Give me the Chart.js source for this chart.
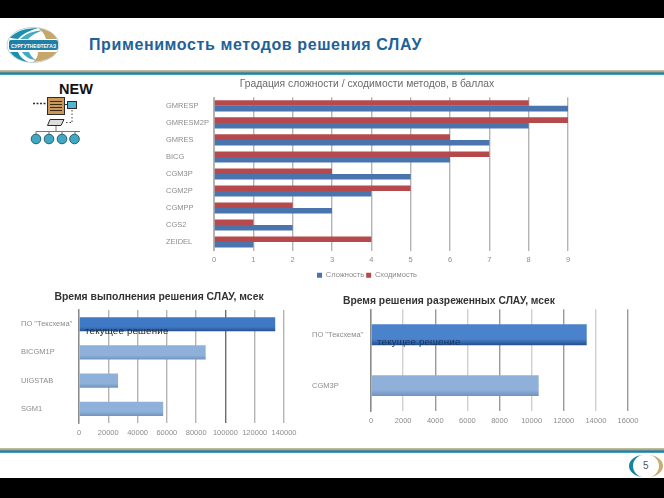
<!DOCTYPE html>
<html>
<head>
<meta charset="utf-8">
<script src="https://cdn.jsdelivr.net/npm/chart.js@4"></script>
<style>
  html, body { margin: 0; padding: 0; background: #fff; }
  #page { position: relative; width: 664px; height: 498px; overflow: hidden; font-family: "Liberation Sans", sans-serif; }
  #page canvas { position: absolute; filter: blur(0.45px); }
  .band { position: absolute; left: 0; width: 664px; background: #000; }
  .label { position: absolute; white-space: nowrap; }
  svg { position: absolute; left: 0; top: 0; }
</style>
</head>
<body>
<div id="page">
  <svg width="664" height="498">
    <defs>
      <linearGradient id="rule" x1="0" y1="0" x2="0" y2="1">
        <stop offset="0" stop-color="#cdbf98"/>
        <stop offset="0.4" stop-color="#8fa9a0"/>
        <stop offset="0.6" stop-color="#1f6f8f"/>
        <stop offset="1" stop-color="#49aecb"/>
      </linearGradient>
    </defs>
    <!-- header logo -->
    <ellipse cx="33" cy="45" rx="26" ry="17.5" fill="#fff" stroke="#9fb4b8" stroke-width="0.6"/>
    <path d="M10 38 Q18 28 38 28 Q24 32 18 39 Z" fill="#1b8fb0"/>
    <path d="M20 39 Q28 31 44 30 Q34 33 28 39 Z" fill="#4aa8c2"/>
    <path d="M38 28 Q52 30 57 39 L46 39 Q44 32 38 28 Z" fill="#c5a76c"/>
    <path d="M10 52 Q16 60 28 62 Q20 58 18 52 Z" fill="#1b8fb0"/>
    <path d="M22 52 Q26 59 36 60 Q31 57 29 52 Z" fill="#4aa8c2"/>
    <path d="M38 52 Q38 58 33 62 Q50 61 57 52 Z" fill="#c5a76c"/>
    <rect x="9" y="40" width="49" height="10" rx="2" fill="#1f7fa6"/>
    <text x="33.5" y="47.5" font-size="5.4" font-weight="bold" fill="#fff" text-anchor="middle" font-family="Liberation Sans" textLength="45" lengthAdjust="spacingAndGlyphs">СУРГУТНЕФТЕГАЗ</text>
    <!-- header and footer rules -->
    <rect x="0" y="70" width="664" height="5" fill="url(#rule)"/>
    <rect x="0" y="448" width="664" height="5" fill="url(#rule)"/>
    <!-- scheme icon under NEW -->
    <path d="M33 103.5 H47" stroke="#333" stroke-width="1.4" stroke-dasharray="2 1.5"/>
    <rect x="47.500" y="97.500" width="17" height="17" fill="#c9975a" stroke="#2b2b2b"/>
    <path d="M50 101.500 H62 M50 104.500 H62 M50 107.500 H62 M50 110.500 H62" stroke="#3a2c18" stroke-width="1.1"/>
    <rect x="67.500" y="101.500" width="9" height="7" fill="#52b5cf" stroke="#2b2b2b"/>
    <path d="M64 104.500 H67.500" stroke="#333"/>
    <path d="M72 110 V122 M66 122.500 H72" stroke="#444" stroke-dasharray="1.5 2"/>
    <path d="M50 119.500 H64 L61 125.500 H47.500 Z" fill="#ddd" stroke="#2b2b2b"/>
    <path d="M36 131.500 H80 M56 126 V131.500 M36 131.500 V135 M49 131.500 V135 M62 131.500 V135 M75 131.500 V135" stroke="#777"/>
    <circle cx="36" cy="139" r="4.800" fill="#3fa9c4" stroke="#2b5e6b"/>
    <circle cx="49" cy="139" r="4.800" fill="#3fa9c4" stroke="#2b5e6b"/>
    <circle cx="62" cy="139" r="4.800" fill="#3fa9c4" stroke="#2b5e6b"/>
    <circle cx="74.500" cy="139" r="4.800" fill="#3fa9c4" stroke="#2b5e6b"/>
    <!-- page number badge -->
    <path d="M644 455 A 15 11 0 0 0 644 477 A 11 11 0 0 1 644 455 Z" fill="#1682a6"/>
    <path d="M648 455 A 15 11 0 0 1 648 477 A 11 11 0 0 0 648 455 Z" fill="#c9ad74"/>
  </svg>

  <canvas id="gradationChart" style="left:156px;top:76px;" width="434" height="213"></canvas>
  <canvas id="timeChart" style="left:0px;top:287px;" width="320" height="155"></canvas>
  <canvas id="sparseChart" style="left:300px;top:292px;" width="364" height="138"></canvas>

  <div class="band" style="top:0;height:18px;"></div>
  <div class="band" style="top:478px;height:20px;"></div>

  <div class="label" style="left:89px;top:36px;font-size:16px;font-weight:bold;color:#1f6199;letter-spacing:0.61px;">Применимость методов решения СЛАУ</div>
  <div class="label" style="left:59px;top:81px;font-size:14.500px;font-weight:bold;color:#111;">NEW</div>
  <div class="label" style="left:85px;top:325px;font-size:9.800px;color:#2a2a2a;letter-spacing:0.15px;">текущее решение</div>
  <div class="label" style="left:377px;top:336px;font-size:9.800px;color:#17365d;letter-spacing:0.15px;">текущее решение</div>
  <div class="label" style="left:643px;top:460px;font-size:10px;color:#555;">5</div>
</div>

<script>
document.addEventListener('DOMContentLoaded', () => {
  // Top chart: complexity / convergence scores
  const methods = ['GMRESP', 'GMRESM2P', 'GMRES', 'BICG', 'CGM3P', 'CGM2P', 'CGMPP', 'CGS2', 'ZEIDEL'];
  const complexity = [9, 8, 7, 6, 5, 4, 3, 2, 1];
  const convergence = [8, 9, 6, 7, 3, 5, 2, 1, 4];

  // Bottom left chart: run time
  const timeLabels = ['ПО "Тексхема"', 'BICGM1P', 'UIGSTAB', 'SGM1'];
  const timeValues = [134000, 86500, 26700, 57500];

  // Bottom right chart: sparse solve time
  const sparseLabels = ['ПО "Тексхема"', 'CGM3P'];
  const sparseValues = [13430, 10440];

  const gridColor = '#b4b4b4';
  const tickColor = '#8c8c8c';
  const fontName = '"Liberation Sans", sans-serif';

  // Fixed label gutter so the plot areas line up with the picture
  const gutter = width => (scale) => { scale.width = width; };

  // Vertical gradient per bar, worked out from the category scale
  const barGradient = (top, bottom, share) => (context) => {
    const { chart, dataIndex } = context;
    const yScale = chart.scales.y;
    if (!yScale || !chart.chartArea) return top;
    const y = yScale.getPixelForValue(dataIndex);
    const half = chart.chartArea.height / chart.data.labels.length * share / 2;
    const fill = chart.ctx.createLinearGradient(0, y - half, 0, y + half);
    fill.addColorStop(0, top);
    fill.addColorStop(0.7, top);
    fill.addColorStop(1, bottom);
    return fill;
  };

  const darkGrid = (tickValue) => (context) => context.tick && context.tick.value === tickValue ? '#6e6e6e' : gridColor;
  const plainTick = (value) => String(value);

  // Bottom titles are not centred on the label + plot box, nudge them sideways
  const shiftTitle = {
    id: 'shiftTitle',
    afterLayout(chart, args, opts) {
      chart.titleBlock.left += opts.dx || 0;
      chart.titleBlock.right += opts.dx || 0;
    }
  };

  new Chart(document.getElementById('gradationChart'), {
    type: 'bar',
    data: {
      labels: methods,
      datasets: [
        { label: 'Сходимость', data: convergence, backgroundColor: '#b6494c' },
        { label: 'Сложность', data: complexity, backgroundColor: '#4a74ae' }
      ]
    },
    options: {
      indexAxis: 'y',
      responsive: false,
      animation: false,
      layout: { padding: { top: 0, right: 22, bottom: 0, left: 10 } },
      datasets: { bar: { categoryPercentage: 0.65, barPercentage: 1 } },
      scales: {
        y: {
          afterFit: gutter(48),
          grid: { display: false },
          border: { color: gridColor },
          ticks: { color: tickColor, font: { size: 7.5, family: fontName }, crossAlign: 'far', padding: 6 }
        },
        x: {
          min: 0,
          max: 9,
          grid: { color: gridColor, lineWidth: 1.4, drawTicks: false },
          border: { display: false },
          ticks: { stepSize: 1, color: tickColor, maxRotation: 0, font: { size: 7.5, family: fontName }, padding: 5 }
        }
      },
      plugins: {
        title: {
          display: true,
          text: 'Градация сложности / сходимости методов, в баллах',
          color: '#6a6a6a',
          font: { size: 10.3, weight: 'normal', family: fontName },
          padding: { top: 2, bottom: 7 }
        },
        legend: {
          position: 'bottom',
          reverse: true,
          labels: { color: tickColor, boxWidth: 5, boxHeight: 5, font: { size: 7.5, family: fontName }, padding: 2 }
        },
        tooltip: { enabled: false }
      }
    }
  });

  new Chart(document.getElementById('timeChart'), {
    type: 'bar',
    plugins: [shiftTitle],
    data: {
      labels: timeLabels,
      datasets: [{
        data: timeValues,
        categoryPercentage: 0.5,
        barPercentage: 1,
        backgroundColor: (context) => context.dataIndex === 0
          ? barGradient('#3f78c4', '#24508c', 0.5)(context)
          : barGradient('#8fb0d8', '#6f93bf', 0.5)(context)
      }]
    },
    options: {
      indexAxis: 'y',
      responsive: false,
      animation: false,
      layout: { padding: { top: 0, right: 36, bottom: 0, left: 21 } },
      scales: {
        y: {
          afterFit: gutter(58),
          grid: { display: false },
          border: { color: '#8a8a8a', width: 1.4 },
          ticks: { color: tickColor, font: { size: 7.5, family: fontName }, crossAlign: 'far', padding: 4 }
        },
        x: {
          min: 0,
          max: 140000,
          grid: { color: darkGrid(100000), lineWidth: 1.4, drawTicks: false },
          border: { display: false },
          ticks: { stepSize: 20000, callback: plainTick, color: tickColor, maxRotation: 0, font: { size: 7.5, family: fontName }, padding: 5 }
        }
      },
      plugins: {
        shiftTitle: { dx: 6.5 },
        title: {
          display: true,
          text: 'Время выполнения решения СЛАУ, мсек',
          color: '#333',
          font: { size: 10.4, weight: 'bold', family: fontName },
          padding: { top: 4, bottom: 6.6 }
        },
        legend: { display: false },
        tooltip: { enabled: false }
      }
    }
  });

  new Chart(document.getElementById('sparseChart'), {
    type: 'bar',
    plugins: [shiftTitle],
    data: {
      labels: sparseLabels,
      datasets: [{
        data: sparseValues,
        categoryPercentage: 0.41,
        barPercentage: 1,
        backgroundColor: (context) => context.dataIndex === 0
          ? barGradient('#4a82cc', '#24508c', 0.41)(context)
          : barGradient('#8fb0d8', '#6f93bf', 0.41)(context)
      }]
    },
    options: {
      indexAxis: 'y',
      responsive: false,
      animation: false,
      layout: { padding: { top: 0, right: 36, bottom: 0, left: 12 } },
      scales: {
        y: {
          afterFit: gutter(59),
          grid: { display: false },
          border: { color: '#8a8a8a', width: 1.4 },
          ticks: { color: tickColor, font: { size: 7.5, family: fontName }, crossAlign: 'far', padding: 4 }
        },
        x: {
          min: 0,
          max: 16000,
          grid: { color: (context) => context.index % 2 === 0 ? '#9a9a9a' : '#d0d0d0', lineWidth: 1.4, drawTicks: false },
          border: { display: false },
          ticks: { stepSize: 2000, callback: plainTick, color: tickColor, maxRotation: 0, font: { size: 7.5, family: fontName }, padding: 5 }
        }
      },
      plugins: {
        shiftTitle: { dx: -21 },
        title: {
          display: true,
          text: 'Время решения разреженных СЛАУ, мсек',
          color: '#333',
          font: { size: 10.3, weight: 'bold', family: fontName },
          padding: { top: 3, bottom: 2 }
        },
        legend: { display: false },
        tooltip: { enabled: false }
      }
    }
  });
});
</script>
</body>
</html>
